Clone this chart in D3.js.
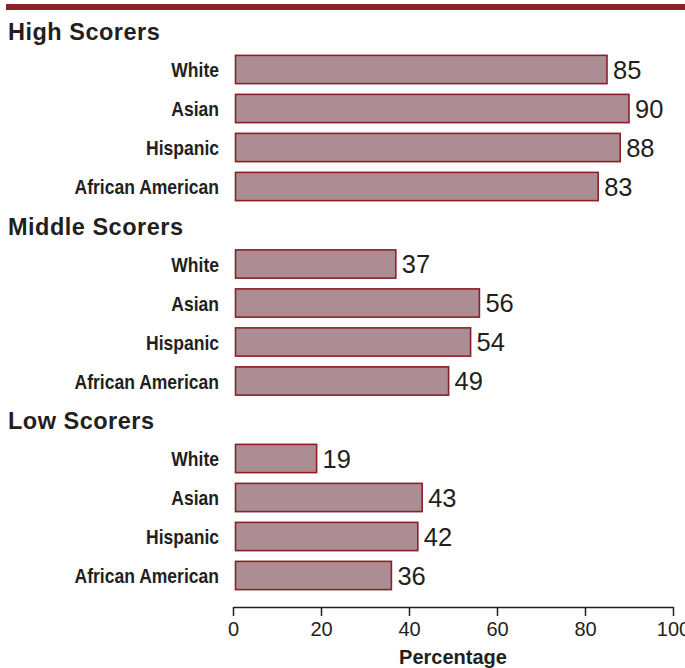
<!DOCTYPE html>
<html><head><meta charset="utf-8">
<script src="https://cdn.jsdelivr.net/npm/d3@7"></script>
<style>
body{margin:0;background:#fff;}
</style></head>
<body>
<script>
const groups = ["High Scorers", "Middle Scorers", "Low Scorers"];
const categories = ["White", "Asian", "Hispanic", "African American"];
const highValues = [85, 90, 88, 83];
const middleValues = [37, 56, 54, 49];
const lowValues = [19, 43, 42, 36];
const seriesValues = [highValues, middleValues, lowValues];
const tickValues = [0, 20, 40, 60, 80, 100];
const axisTitle = "Percentage";

const W = 685, H = 668;
const svg = d3.select("body").append("svg").attr("width", W).attr("height", H);

const sans = "'Liberation Sans',Arial,Helvetica,sans-serif";
const ink = "#231f20";

svg.append("rect").attr("x", 6).attr("y", 4).attr("width", W - 6).attr("height", 6).attr("fill", "#8b2228");

const x = d3.scaleLinear().domain([0, 100]).range([233, 673]);
const gScale = d3.scaleBand().domain(groups).range([14, 14 + 3 * 194.5]);
const yInner = d3.scaleBand().domain(categories).range([36, 192]).paddingInner(0.25).paddingOuter(0.125);

groups.forEach((gName, gi) => {
  const g = svg.append("g").attr("transform", `translate(0,${gScale(gName)})`);
  g.append("text").attr("x", 8).attr("y", 18).attr("dy", "0.36em")
    .attr("font-family", sans).attr("font-weight", "bold").attr("font-size", 23.5)
    .attr("letter-spacing", 0.5).attr("fill", ink).text(gName);
  const rows = categories.map((c, i) => ({c, v: seriesValues[gi][i]}));
  const r = g.selectAll("g.row").data(rows).join("g").attr("class", "row");
  r.append("rect")
    .attr("x", x(0) + 2.5).attr("y", d => yInner(d.c) + 0.5)
    .attr("width", d => x(d.v) - x(0) - 2.5).attr("height", yInner.bandwidth() - 1)
    .attr("fill", "#ab8d93").attr("stroke", "#8b2028").attr("stroke-width", 1.6);
  r.append("text")
    .attr("transform", d => `translate(219,${yInner(d.c) + yInner.bandwidth() / 2}) scale(0.835,1)`)
    .attr("dy", "0.36em")
    .attr("text-anchor", "end").attr("font-family", sans).attr("font-weight", "bold")
    .attr("font-size", 21).attr("fill", ink).text(d => d.c);
  r.append("text").attr("x", d => x(d.v) + 6).attr("y", d => yInner(d.c) + yInner.bandwidth() / 2).attr("dy", "0.36em")
    .attr("font-family", sans).attr("font-size", 25.5).attr("fill", ink).text(d => d.v);
});

const axis = d3.axisBottom(x).tickValues(tickValues).tickSize(9).tickSizeOuter(0).tickPadding(6);
const ag = svg.append("g").attr("transform", "translate(0,607)").call(axis);
ag.select(".domain").attr("stroke", ink).attr("stroke-width", 1.5);
ag.selectAll(".tick line").attr("stroke", ink).attr("stroke-width", 1.5);
ag.selectAll(".tick text").attr("font-family", sans).attr("font-size", 20).attr("fill", ink);

svg.append("text").attr("x", x(50)).attr("y", 664).attr("text-anchor", "middle")
  .attr("font-family", sans).attr("font-weight", "bold").attr("font-size", 20).attr("fill", ink).text(axisTitle);
</script>
</body></html>
